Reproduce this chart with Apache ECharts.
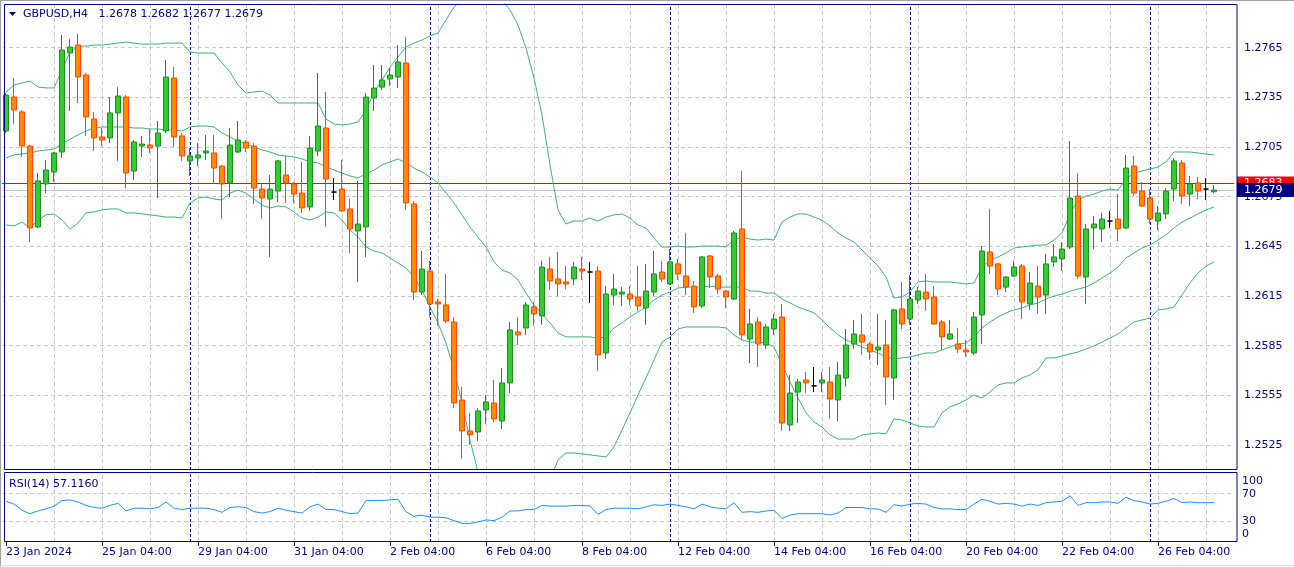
<!DOCTYPE html>
<html><head><meta charset="utf-8">
<script src="https://cdn.jsdelivr.net/npm/echarts@6/dist/echarts.min.js"></script>
<style>html,body{margin:0;padding:0;background:#fff}#c{width:1294px;height:567px}</style>
</head><body><div id="c"></div>
<script>
const symbolTitle = 'GBPUSD,H4';
const lastOHLC = [1.2678, 1.2682, 1.2677, 1.2679];
const askPrice = 1.2683;
const bidPrice = 1.2679;
const rsiTitle = 'RSI(14) 57.1160';
const priceTicks = [1.2525, 1.2555, 1.2585, 1.2615, 1.2645, 1.2675, 1.2705, 1.2735, 1.2765];
const rsiTicks = [100, 70, 30, 0];
const rsiLevels = [70, 30];
const xTickBars = [0, 12, 24, 36, 48, 60, 72, 84, 96, 108, 120, 132, 144];
const xTickLabels = ['23 Jan 2024', '25 Jan 04:00', '29 Jan 04:00', '31 Jan 04:00', '2 Feb 04:00', '6 Feb 04:00', '8 Feb 04:00', '12 Feb 04:00', '14 Feb 04:00', '16 Feb 04:00', '20 Feb 04:00', '22 Feb 04:00', '26 Feb 04:00'];
const weekSeparators = [23, 53, 83, 113, 143];

const openP = [1.27147,1.27352,1.27262,1.27056,1.26567,1.26827,1.26899,1.27020,1.27618,1.27666,
1.27485,1.27219,1.27111,1.27105,1.27256,1.27352,1.26905,1.27056,1.27062,1.27056,
1.27147,1.27467,1.27117,1.26966,1.26984,1.27014,1.27014,1.26935,1.26833,1.27020,
1.27080,1.27056,1.26796,1.26736,1.26784,1.26881,1.26827,1.26772,1.26688,1.27026,
1.27165,1.26778,1.26796,1.26676,1.26543,1.26567,1.27346,1.27412,1.27461,1.27473,
1.27558,1.26706,1.26174,1.26301,1.26114,1.26096,1.25993,1.25522,1.25335,1.25329,
1.25462,1.25504,1.25395,1.25625,1.25933,1.25957,1.26084,1.26030,1.26313,1.26253,
1.26235,1.26253,1.26313,1.26295,1.26301,1.25806,1.26156,1.26162,1.26162,1.26144,
1.26078,1.26174,1.26295,1.26223,1.26344,1.26271,1.26210,1.26090,1.26392,1.26271,
1.26180,1.26132,1.26555,1.25890,1.25993,1.25854,1.25951,1.26023,1.25371,1.25570,
1.25643,1.25607,1.25625,1.25631,1.25522,1.25655,1.25860,1.25915,1.25860,1.25824,
1.25854,1.25655,1.26072,1.26011,1.26126,1.26174,1.26144,1.25993,1.25890,1.25860,
1.25824,1.25806,1.26036,1.26416,1.26344,1.26204,1.26271,1.26331,1.26102,1.26210,
1.26156,1.26356,1.26374,1.26446,1.26754,1.26265,1.26561,1.26555,1.26603,1.26615,
1.26561,1.26935,1.26784,1.26742,1.26603,1.26646,1.26796,1.26954,1.26766,1.26833,
1.26796,1.26780];
const highP = [1.27376,1.27467,1.27274,1.27062,1.26893,1.26972,1.27020,1.27727,1.27702,1.27733,
1.27497,1.27262,1.27165,1.27352,1.27412,1.27364,1.27092,1.27117,1.27159,1.27207,
1.27576,1.27533,1.27135,1.27044,1.27074,1.27123,1.27123,1.26941,1.27165,1.27207,
1.27092,1.27074,1.26827,1.26881,1.26972,1.26996,1.26839,1.26960,1.27117,1.27497,
1.27382,1.26863,1.26972,1.26736,1.26845,1.27376,1.27545,1.27545,1.27527,1.27666,
1.27715,1.26724,1.26422,1.26362,1.26132,1.26283,1.26023,1.25601,1.25444,1.25474,
1.25552,1.25643,1.25715,1.25993,1.26023,1.26114,1.26114,1.26362,1.26386,1.26416,
1.26331,1.26356,1.26386,1.26356,1.26331,1.26210,1.26283,1.26204,1.26210,1.26331,
1.26344,1.26422,1.26362,1.26434,1.26374,1.26531,1.26241,1.26392,1.26398,1.26283,
1.26186,1.26543,1.26905,1.26072,1.26023,1.25981,1.26042,1.26102,1.25673,1.25649,
1.25691,1.25721,1.25691,1.25721,1.25752,1.25951,1.26005,1.26042,1.25872,1.26042,
1.26005,1.26072,1.26235,1.26277,1.26204,1.26283,1.26210,1.26005,1.26005,1.25957,
1.25884,1.26054,1.26452,1.26676,1.26350,1.26271,1.26362,1.26344,1.26295,1.26331,
1.26404,1.26464,1.26476,1.27086,1.26893,1.26585,1.26633,1.26652,1.26664,1.26766,
1.27002,1.26996,1.26839,1.26796,1.26694,1.26802,1.26984,1.26972,1.26875,1.26869,
1.26863,1.26820];
const lowP = [1.27135,1.27189,1.26990,1.26476,1.26561,1.26772,1.26839,1.26984,1.27268,1.27316,
1.27117,1.27026,1.27056,1.27074,1.26966,1.26802,1.26851,1.26990,1.27014,1.26742,
1.27135,1.27050,1.26966,1.26875,1.26935,1.26972,1.26827,1.26615,1.26748,1.27014,
1.27020,1.26706,1.26615,1.26386,1.26718,1.26712,1.26712,1.26652,1.26664,1.26996,
1.26567,1.26730,1.26658,1.26410,1.26235,1.26386,1.27268,1.27394,1.27418,1.27406,
1.26670,1.26126,1.26156,1.26023,1.25970,1.25987,1.25474,1.25166,1.25250,1.25274,
1.25377,1.25389,1.25347,1.25564,1.25854,1.25915,1.25970,1.25976,1.26186,1.26150,
1.26192,1.26217,1.26247,1.26108,1.25697,1.25770,1.26096,1.26090,1.26096,1.26060,
1.25976,1.26150,1.26235,1.26217,1.26247,1.26156,1.26048,1.26078,1.26198,1.26162,
1.26078,1.26126,1.25884,1.25745,1.25721,1.25830,1.25915,1.25335,1.25335,1.25383,
1.25564,1.25570,1.25570,1.25407,1.25395,1.25601,1.25830,1.25794,1.25764,1.25733,
1.25492,1.25522,1.25951,1.25976,1.26102,1.26060,1.25976,1.25824,1.25884,1.25806,
1.25782,1.25794,1.25860,1.26283,1.26156,1.26174,1.26265,1.26011,1.26066,1.26042,
1.26042,1.26325,1.26301,1.26434,1.26253,1.26102,1.26434,1.26476,1.26561,1.26482,
1.26555,1.26754,1.26688,1.26585,1.26549,1.26615,1.26724,1.26706,1.26694,1.26736,
1.26730,1.26770];
const closeP = [1.27364,1.27274,1.27056,1.26561,1.26845,1.26911,1.27014,1.27636,1.27654,1.27473,
1.27232,1.27105,1.27092,1.27256,1.27358,1.26893,1.27080,1.27068,1.27044,1.27135,
1.27473,1.27111,1.26996,1.26996,1.27002,1.27026,1.26923,1.26827,1.27062,1.27092,
1.27044,1.26802,1.26742,1.26796,1.26966,1.26833,1.26766,1.26682,1.27044,1.27177,
1.26857,1.26778,1.26664,1.26555,1.26585,1.27352,1.27406,1.27455,1.27485,1.27564,
1.26712,1.26174,1.26313,1.26102,1.26102,1.25999,1.25504,1.25335,1.25311,1.25456,
1.25510,1.25407,1.25625,1.25945,1.25915,1.26096,1.26042,1.26325,1.26241,1.26223,
1.26223,1.26325,1.26301,1.26295,1.25794,1.26162,1.26192,1.26174,1.26132,1.26090,
1.26180,1.26283,1.26253,1.26356,1.26283,1.26204,1.26084,1.26386,1.26265,1.26192,
1.26144,1.26531,1.25915,1.25981,1.25860,1.25963,1.26011,1.25383,1.25564,1.25631,
1.25625,1.25607,1.25643,1.25528,1.25673,1.25854,1.25921,1.25872,1.25812,1.25842,
1.25661,1.26066,1.25981,1.26132,1.26180,1.26132,1.25981,1.25903,1.25921,1.25830,
1.25812,1.26023,1.26422,1.26331,1.26192,1.26265,1.26325,1.26114,1.26229,1.26144,
1.26344,1.26386,1.26434,1.26742,1.26271,1.26555,1.26585,1.26615,1.26603,1.26555,
1.26923,1.26772,1.26694,1.26615,1.26652,1.26784,1.26966,1.26754,1.26827,1.26784,
1.26796,1.26790];

const bbUpper = [1.27382,1.27425,1.27437,1.27449,1.27413,1.27407,1.27407,1.27515,1.27624,1.27660,
1.27660,1.27666,1.27666,1.27672,1.27678,1.27684,1.27678,1.27672,1.27672,1.27672,
1.27678,1.27678,1.27678,1.27624,1.27618,1.27618,1.27618,1.27558,1.27503,1.27425,
1.27376,1.27382,1.27388,1.27364,1.27316,1.27316,1.27316,1.27316,1.27316,1.27316,
1.27219,1.27189,1.27183,1.27189,1.27201,1.27274,1.27382,1.27455,1.27533,1.27594,
1.27654,1.27678,1.27696,1.27721,1.27739,1.27817,1.27896,1.27938,1.27968,1.27986,
1.27986,1.27968,1.27938,1.27878,1.27787,1.27648,1.27467,1.27244,1.26941,1.26670,
1.26585,1.26603,1.26603,1.26621,1.26603,1.26627,1.26640,1.26646,1.26621,1.26579,
1.26561,1.26500,1.26446,1.26446,1.26452,1.26446,1.26446,1.26452,1.26452,1.26452,
1.26446,1.26488,1.26506,1.26494,1.26488,1.26494,1.26488,1.26597,1.26627,1.26646,
1.26646,1.26627,1.26609,1.26573,1.26531,1.26500,1.26476,1.26428,1.26380,1.26331,
1.26265,1.26138,1.26144,1.26174,1.26235,1.26241,1.26235,1.26235,1.26235,1.26229,
1.26223,1.26229,1.26325,1.26368,1.26386,1.26410,1.26440,1.26446,1.26452,1.26458,
1.26458,1.26488,1.26531,1.26646,1.26730,1.26754,1.26766,1.26784,1.26796,1.26790,
1.26857,1.26893,1.26905,1.26917,1.26929,1.26960,1.27020,1.27020,1.27020,1.27014,
1.27008,1.27002];
const bbMiddle = [1.26984,1.27002,1.27008,1.27014,1.27026,1.27032,1.27038,1.27068,1.27098,1.27123,
1.27147,1.27165,1.27171,1.27171,1.27171,1.27171,1.27165,1.27165,1.27159,1.27159,
1.27153,1.27153,1.27147,1.27171,1.27177,1.27177,1.27171,1.27135,1.27111,1.27086,
1.27068,1.27050,1.27032,1.27020,1.27002,1.26996,1.26990,1.26978,1.26960,1.26954,
1.26930,1.26911,1.26893,1.26875,1.26863,1.26887,1.26911,1.26942,1.26960,1.26978,
1.26954,1.26923,1.26899,1.26869,1.26833,1.26772,1.26712,1.26640,1.26567,1.26506,
1.26446,1.26356,1.26307,1.26289,1.26247,1.26168,1.26096,1.26042,1.25987,1.25927,
1.25903,1.25903,1.25903,1.25903,1.25896,1.25903,1.25957,1.25987,1.26023,1.26054,
1.26084,1.26126,1.26156,1.26174,1.26198,1.26204,1.26204,1.26204,1.26210,1.26204,
1.26204,1.26204,1.26204,1.26180,1.26180,1.26168,1.26168,1.26132,1.26108,1.26084,
1.26066,1.26048,1.26005,1.25957,1.25915,1.25884,1.25866,1.25842,1.25824,1.25806,
1.25782,1.25770,1.25776,1.25782,1.25794,1.25806,1.25806,1.25824,1.25842,1.25860,
1.25866,1.25903,1.25957,1.25993,1.26023,1.26048,1.26066,1.26078,1.26096,1.26108,
1.26132,1.26150,1.26162,1.26180,1.26192,1.26204,1.26229,1.26259,1.26289,1.26325,
1.26380,1.26410,1.26440,1.26458,1.26488,1.26519,1.26561,1.26597,1.26621,1.26646,
1.26670,1.26688];
const bbLower = [1.26579,1.26573,1.26597,1.26561,1.26609,1.26640,1.26646,1.26609,1.26555,1.26591,
1.26652,1.26658,1.26670,1.26676,1.26676,1.26652,1.26652,1.26646,1.26640,1.26634,
1.26627,1.26627,1.26621,1.26712,1.26742,1.26748,1.26736,1.26730,1.26772,1.26790,
1.26772,1.26736,1.26700,1.26682,1.26694,1.26688,1.26658,1.26621,1.26609,1.26627,
1.26658,1.26652,1.26609,1.26549,1.26506,1.26446,1.26422,1.26410,1.26380,1.26350,
1.26319,1.26265,1.26186,1.26084,1.25987,1.25866,1.25703,1.25504,1.25280,1.25087,
1.24972,1.24803,1.24725,1.24701,1.24707,1.24701,1.24725,1.24840,1.25033,1.25160,
1.25202,1.25202,1.25196,1.25190,1.25184,1.25178,1.25238,1.25341,1.25444,1.25552,
1.25655,1.25764,1.25872,1.25903,1.25951,1.25963,1.25963,1.25963,1.25963,1.25963,
1.25957,1.25915,1.25884,1.25872,1.25872,1.25866,1.25842,1.25740,1.25631,1.25534,
1.25444,1.25389,1.25359,1.25311,1.25286,1.25286,1.25286,1.25311,1.25317,1.25323,
1.25317,1.25407,1.25401,1.25383,1.25365,1.25359,1.25359,1.25444,1.25480,1.25498,
1.25522,1.25552,1.25534,1.25570,1.25613,1.25625,1.25625,1.25655,1.25673,1.25703,
1.25776,1.25776,1.25788,1.25800,1.25812,1.25830,1.25848,1.25872,1.25896,1.25921,
1.25957,1.25993,1.26005,1.26017,1.26066,1.26072,1.26084,1.26156,1.26229,1.26289,
1.26331,1.26356];
const rsi = [59,55,46,41,45,48,52,60,61,58,
53,50,49,53,56,45,49,49,48,50,
58,49,47,49,49,49,47,43,50,51,
50,44,42,44,49,46,44,42,51,55,
47,47,44,41,42,60,60,60,61,62,
44,37,39,36,36,35,31,27,27,29,
32,31,36,45,45,47,47,53,52,52,
52,53,53,52,40,47,49,49,49,48,
51,54,53,55,53,51,48,55,51,49,
48,57,43,44,43,45,46,34,39,41,
41,41,41,39,42,50,50,50,48,48,
43,54,52,55,56,55,50,48,48,47,
47,55,62,59,55,56,55,52,55,53,
57,58,59,67,53,57,57,58,58,56,
65,60,58,55,56,59,63,57,58,57,
57,57.116];

// ---- layout / styling ----
const FONT = 'DejaVu Sans';
const NAVY = '#000080';
const N_CAT = 154;
const categories = Array.from({length: N_CAT}, (_, i) => String(i));
const vGrid = [];
for (let i = 6; i < N_CAT - 2; i += 6) vGrid.push(i);
const gridLine = {color: '#c8c8c8', type: [4, 3], width: 1};
const sepLine = {color: NAVY, type: [3, 2], width: 1};
const noLabel = {show: false};

function verticalMarks() {
  return vGrid.map(i => ({xAxis: i, lineStyle: gridLine, label: noLabel}))
    .concat(weekSeparators.map(i => ({xAxis: i, lineStyle: sepLine, label: noLabel})));
}

const candleData = openP.map((o, i) => [o, closeP[i], lowP[i], highP[i]]);
const tickMap = {};
xTickBars.forEach((b, k) => { tickMap[b] = xTickLabels[k]; });

const chart = echarts.init(document.getElementById('c'), null, {renderer: 'canvas'});
chart.setOption({
  animation: false,
  backgroundColor: '#ffffff',
  textStyle: {fontFamily: FONT},
  grid: [
    {left: 2, top: 4, width: 8 * N_CAT, height: 466},
    {left: 2, top: 473, width: 8 * N_CAT, height: 69}
  ],
  xAxis: [
    {type: 'category', gridIndex: 0, data: categories, boundaryGap: true, show: false},
    {type: 'category', gridIndex: 1, data: categories, boundaryGap: true,
      axisLine: {show: false},
      axisTick: {show: true, alignWithLabel: true, length: 4, lineStyle: {color: NAVY},
        interval: (idx) => tickMap[idx] !== undefined},
      axisLabel: {show: true, interval: (idx) => tickMap[idx] !== undefined,
        formatter: (v, idx) => tickMap[idx] || '', align: 'left', margin: 5,
        color: NAVY, fontFamily: FONT, fontSize: 11},
      splitLine: {show: false}}
  ],
  yAxis: [
    {type: 'value', gridIndex: 0, min: 1.25099, max: 1.27914, show: false},
    {type: 'value', gridIndex: 1, min: 0, max: 100, interval: 10, position: 'right',
      axisLine: {show: false}, axisTick: {show: false}, splitLine: {show: false},
      axisLabel: {show: true, margin: 8, color: NAVY, fontFamily: FONT, fontSize: 11,
        formatter: (v) => {
          const r = Math.round(v);
          if (!rsiTicks.includes(r)) return '';
          if (r === 100) return '{top|' + r + '}';
          if (r === 0) return '{bot|' + r + '}';
          return '{mid|' + r + '}';
        },
        rich: {
          top: {padding: [16, 0, 0, 0], color: NAVY, fontFamily: FONT, fontSize: 11},
          bot: {padding: [0, 0, 16, 0], color: NAVY, fontFamily: FONT, fontSize: 11},
          mid: {color: NAVY, fontFamily: FONT, fontSize: 11}
        }}}
  ],
  graphic: [
    {type: 'rect', silent: true, z: 50, shape: {x: 4.5, y: 4.5, width: 1232.5, height: 465}, style: {fill: null, stroke: NAVY, lineWidth: 1}},
    {type: 'rect', silent: true, z: 50, shape: {x: 4.5, y: 472.5, width: 1232.5, height: 69}, style: {fill: null, stroke: NAVY, lineWidth: 1}},
    {type: 'line', silent: true, z: 50, shape: {x1: 0, y1: 0.5, x2: 1294, y2: 0.5}, style: {stroke: '#a0a0a0', lineWidth: 1}},
    {type: 'line', silent: true, z: 50, shape: {x1: 0.5, y1: 0, x2: 0.5, y2: 567}, style: {stroke: '#a0a0a0', lineWidth: 1}},
    {type: 'line', silent: true, z: 50, shape: {x1: 0, y1: 565.5, x2: 1294, y2: 565.5}, style: {stroke: '#d8d8d8', lineWidth: 1}},
    {type: 'polygon', silent: true, z: 50, shape: {points: [[9, 12], [16, 12], [12.5, 16]]}, style: {fill: NAVY}},
    {type: 'text', silent: true, z: 50, x: 23, y: 14,
      style: {text: symbolTitle + '   ' + lastOHLC.map(v => v.toFixed(4)).join(' '), fill: NAVY, font: '11px "' + FONT + '"', verticalAlign: 'middle', align: 'left'}},
    {type: 'text', silent: true, z: 50, x: 9, y: 484,
      style: {text: rsiTitle, fill: NAVY, font: '11px "' + FONT + '"', verticalAlign: 'middle', align: 'left'}}
  ],
  series: [
    {name: 'grid', type: 'line', xAxisIndex: 0, yAxisIndex: 0, data: [], silent: true, symbol: 'none', color: '#c8c8c8',
      markLine: {silent: true, symbol: ['none', 'none'], animation: false, z: 1, precision: 6,
        data: priceTicks.map(v => ({yAxis: v, lineStyle: gridLine,
          label: {show: true, position: 'end', distance: 10, formatter: v.toFixed(4), color: NAVY, fontFamily: FONT, fontSize: 11}}))
          .concat(verticalMarks())}},
    {name: 'ask', type: 'line', xAxisIndex: 0, yAxisIndex: 0, data: [], silent: true, symbol: 'none', color: '#ff0000',
      markLine: {silent: true, symbol: ['none', 'none'], animation: false, z: 2, precision: 6,
        lineStyle: {color: '#ff0000', type: 'solid', width: 1},
        data: [{yAxis: askPrice, lineStyle: {color: '#ff0000', type: 'solid', width: 1},
          label: {show: true, position: 'end', distance: 3, formatter: askPrice.toFixed(4), color: '#ffffff',
            backgroundColor: '#ff0000', padding: [2, 20, 1, 7], fontFamily: FONT, fontSize: 11}}]}},
    {name: 'bid', type: 'line', xAxisIndex: 0, yAxisIndex: 0, data: [], silent: true, symbol: 'none', color: '#c8c8c8',
      markLine: {silent: true, symbol: ['none', 'none'], animation: false, z: 3, precision: 6,
        lineStyle: {color: '#c8c8c8', type: 'solid', width: 1},
        data: [{yAxis: bidPrice, lineStyle: {color: '#c8c8c8', type: 'solid', width: 1},
          label: {show: true, position: 'end', distance: 3, formatter: bidPrice.toFixed(4), color: '#ffffff',
            backgroundColor: NAVY, padding: [2, 20, 1, 7], fontFamily: FONT, fontSize: 11}}]}},
    {name: 'BB upper', type: 'line', xAxisIndex: 0, yAxisIndex: 0, data: bbUpper, symbol: 'none', z: 3,
      lineStyle: {color: '#3CB371', width: 1}, silent: true},
    {name: 'BB middle', type: 'line', xAxisIndex: 0, yAxisIndex: 0, data: bbMiddle, symbol: 'none', z: 3,
      lineStyle: {color: '#3CB371', width: 1}, silent: true},
    {name: 'BB lower', type: 'line', xAxisIndex: 0, yAxisIndex: 0, data: bbLower, symbol: 'none', z: 3,
      lineStyle: {color: '#3CB371', width: 1}, silent: true},
    {name: 'GBPUSD', type: 'candlestick', xAxisIndex: 0, yAxisIndex: 0, data: candleData, z: 4, barWidth: 5,
      silent: true,
      itemStyle: {color: '#32CD32', color0: '#FF8C00', borderColor: '#228B22', borderColor0: '#FF4500',
        borderColorDoji: '#000000', borderWidth: 1}},
    {name: 'RSI', type: 'line', xAxisIndex: 1, yAxisIndex: 1, data: rsi, symbol: 'none', z: 3, silent: true,
      lineStyle: {color: '#1E90FF', width: 1},
      markLine: {silent: true, symbol: ['none', 'none'], animation: false, z: 1, precision: 6,
        data: rsiLevels.map(v => ({yAxis: v, lineStyle: gridLine, label: noLabel})).concat(verticalMarks())}}
  ]
});
</script>
</body></html>
